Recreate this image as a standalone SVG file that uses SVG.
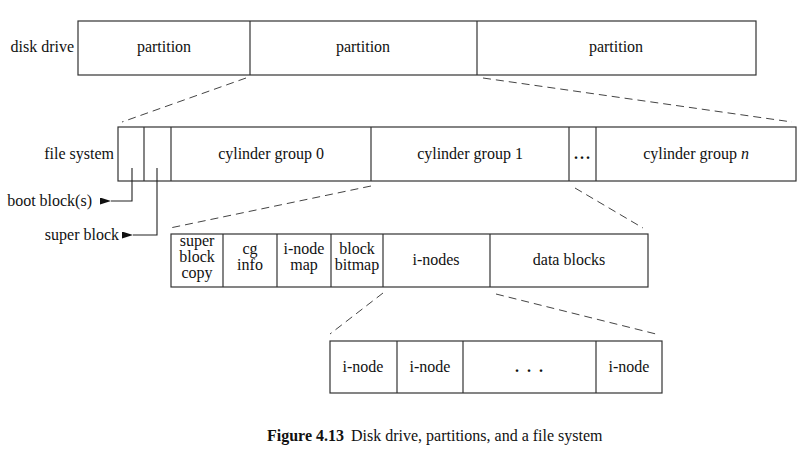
<svg xmlns="http://www.w3.org/2000/svg" width="800" height="457" viewBox="0 0 800 457">
<defs>
<style>
text{font-family:"Liberation Serif","Times New Roman",serif;font-size:16px;fill:#111}
.c{text-anchor:middle}
.r{text-anchor:end}
.box{fill:#fff;stroke:#333;stroke-width:1.2}
.div{stroke:#333;stroke-width:1.2}
.dash{stroke:#444;stroke-width:1;stroke-dasharray:8,5;fill:none}
.lead{stroke:#222;stroke-width:1.1;fill:none}
.dots{font-weight:bold;letter-spacing:2px}
</style>
<marker id="ah" viewBox="0 0 11 7" refX="0" refY="3.5" markerWidth="11" markerHeight="7" markerUnits="userSpaceOnUse" orient="auto">
<path d="M11,0 L0,3.5 L11,7 Z" fill="#111"/>
</marker>
</defs>
<rect width="800" height="457" fill="#fff"/>

<g id="disk-drive">
<text class="r" x="74" y="52">disk drive</text>
<rect class="box" x="78" y="21" width="678" height="54"/>
<line class="div" x1="250" y1="21" x2="250" y2="75"/>
<line class="div" x1="477" y1="21" x2="477" y2="75"/>
<text class="c" x="164" y="52">partition</text>
<text class="c" x="363" y="52">partition</text>
<text class="c" x="616" y="52">partition</text>
</g>

<g id="file-system">
<text class="r" x="114" y="159">file system</text>
<rect class="box" x="118" y="127" width="678" height="54"/>
<line class="div" x1="144" y1="127" x2="144" y2="181"/>
<line class="div" x1="171" y1="127" x2="171" y2="181"/>
<line class="div" x1="371" y1="127" x2="371" y2="181"/>
<line class="div" x1="569" y1="127" x2="569" y2="181"/>
<line class="div" x1="596" y1="127" x2="596" y2="181"/>
<text class="c" x="271" y="159">cylinder group 0</text>
<text class="c" x="470" y="159">cylinder group 1</text>
<text class="c dots" x="583" y="159">...</text>
<text class="c" x="696" y="159">cylinder group <tspan font-style="italic">n</tspan></text>
</g>

<g id="boot-block">
<text class="r" x="92" y="206">boot block(s)</text>
</g>
<g id="super-block">
<text class="r" x="119" y="240">super block</text>
</g>

<g id="cylinder-group">
<rect class="box" x="171" y="234" width="477" height="53"/>
<line class="div" x1="223" y1="234" x2="223" y2="287"/>
<line class="div" x1="277" y1="234" x2="277" y2="287"/>
<line class="div" x1="331" y1="234" x2="331" y2="287"/>
<line class="div" x1="383" y1="234" x2="383" y2="287"/>
<line class="div" x1="490" y1="234" x2="490" y2="287"/>
<text class="c" x="197" y="246">super</text>
<text class="c" x="197" y="262">block</text>
<text class="c" x="197" y="278">copy</text>
<text class="c" x="250" y="254">cg</text>
<text class="c" x="250" y="270">info</text>
<text class="c" x="304" y="254">i-node</text>
<text class="c" x="304" y="270">map</text>
<text class="c" x="357" y="254">block</text>
<text class="c" x="357" y="270">bitmap</text>
<text class="c" x="436" y="265">i-nodes</text>
<text class="c" x="569" y="265">data blocks</text>
</g>

<g id="inodes">
<rect class="box" x="330" y="341" width="332" height="52"/>
<line class="div" x1="397" y1="341" x2="397" y2="393"/>
<line class="div" x1="463" y1="341" x2="463" y2="393"/>
<line class="div" x1="596" y1="341" x2="596" y2="393"/>
<text class="c" x="363" y="372">i-node</text>
<text class="c" x="430" y="372">i-node</text>
<text class="c dots" x="530" y="372">. . .</text>
<text class="c" x="629" y="372">i-node</text>
</g>

<g id="connectors">
<line class="dash" x1="246" y1="78" x2="122" y2="122"/>
<line class="dash" x1="483" y1="78" x2="792" y2="122"/>
<line class="dash" x1="371" y1="186" x2="170" y2="228"/>
<line class="dash" x1="575" y1="188" x2="643" y2="228"/>
<line class="dash" x1="383" y1="293" x2="330" y2="334"/>
<line class="dash" x1="496" y1="294" x2="656" y2="334"/>
<path class="lead" d="M132,168 V201 H111" marker-end="url(#ah)"/>
<path class="lead" d="M157,168 V235 H133" marker-end="url(#ah)"/>
</g>

<g id="caption">
<text x="267" y="441" font-weight="bold" font-size="14.5">Figure 4.13</text>
<text x="351" y="441" font-size="15.5">Disk drive, partitions, and a file system</text>
</g>
</svg>
